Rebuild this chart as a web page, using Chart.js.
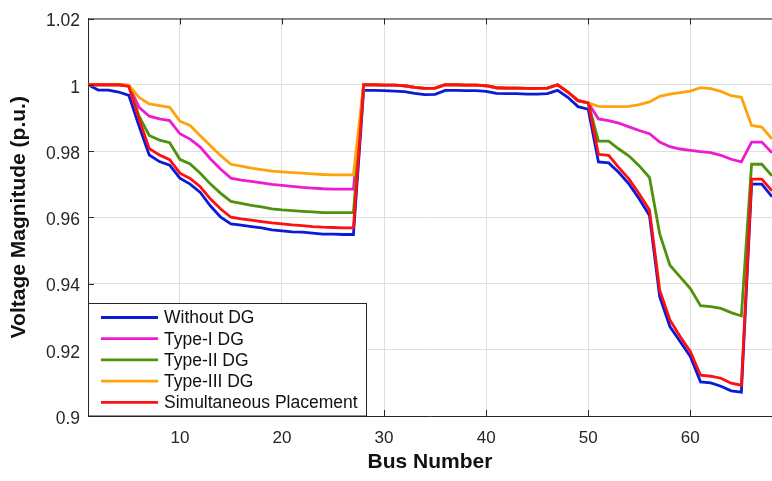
<!DOCTYPE html>
<html>
<head>
<meta charset="utf-8">
<script src="https://cdn.jsdelivr.net/npm/chart.js@4.4.1/dist/chart.umd.min.js"></script>
<style>
html,body{margin:0;padding:0;background:#fff;}
#wrap{width:772px;height:481px;position:relative;}
</style>
</head>
<body>
<div id="wrap"><canvas id="c" width="772" height="481"></canvas></div>
<script>
const busNumbers = [1,2,3,4,5,6,7,8,9,10,11,12,13,14,15,16,17,18,19,20,21,22,23,24,25,26,27,28,29,30,31,32,33,34,35,36,37,38,39,40,41,42,43,44,45,46,47,48,49,50,51,52,53,54,55,56,57,58,59,60,61,62,63,64,65,66,67,68,69];

const seriesNames = ["Without DG","Type-I DG","Type-II DG","Type-III DG","Simultaneous Placement"];

const withoutDG = [
 1.0000,0.9984,0.9984,0.9978,0.9968,0.9875,0.9788,0.9768,0.9757,0.9718,
 0.9700,0.9675,0.9634,0.9600,0.9580,0.9576,0.9572,0.9568,0.9562,0.9559,
 0.9556,0.9555,0.9552,0.9549,0.9549,0.9548,0.9548,0.9983,0.9983,0.9982,
 0.9981,0.9979,0.9974,0.9970,0.9971,0.9983,0.9983,0.9982,0.9982,0.9980,
 0.9974,0.9973,0.9973,0.9972,0.9972,0.9973,0.9983,0.9962,0.9934,0.9926,
 0.9767,0.9764,0.9735,0.9700,0.9655,0.9605,0.9360,0.9270,0.9225,0.9180,
 0.9103,0.9100,0.9090,0.9076,0.9072,0.9700,0.9700,0.9662,0.9662];

const typeIDG = [
 1.0000,1.0000,1.0000,1.0000,0.9998,0.9932,0.9905,0.9897,0.9892,0.9852,
 0.9836,0.9812,0.9776,0.9745,0.9718,0.9712,0.9708,0.9704,0.9699,0.9696,
 0.9693,0.9690,0.9688,0.9686,0.9685,0.9685,0.9685,1.0000,1.0000,0.9999,
 0.9999,0.9997,0.9992,0.9989,0.9990,1.0000,1.0000,0.9999,0.9999,0.9997,
 0.9991,0.9990,0.9990,0.9989,0.9989,0.9990,1.0000,0.9978,0.9952,0.9945,
 0.9897,0.9892,0.9884,0.9873,0.9862,0.9852,0.9827,0.9813,0.9806,0.9802,
 0.9798,0.9795,0.9787,0.9775,0.9767,0.9827,0.9827,0.9795,0.9795];

const typeIIDG = [
 1.0000,1.0000,1.0000,1.0000,0.9997,0.9905,0.9847,0.9833,0.9825,0.9775,
 0.9761,0.9733,0.9700,0.9672,0.9648,0.9642,0.9636,0.9631,0.9625,0.9622,
 0.9620,0.9618,0.9616,0.9614,0.9614,0.9614,0.9614,1.0000,1.0000,0.9999,
 0.9999,0.9997,0.9992,0.9989,0.9990,1.0000,1.0000,0.9999,0.9999,0.9997,
 0.9991,0.9990,0.9990,0.9989,0.9989,0.9990,1.0000,0.9978,0.9952,0.9945,
 0.9830,0.9830,0.9806,0.9785,0.9755,0.9720,0.9550,0.9455,0.9420,0.9385,
 0.9333,0.9330,0.9325,0.9312,0.9302,0.9760,0.9760,0.9725,0.9725];

const typeIIIDG = [
 1.0000,1.0000,1.0000,1.0000,0.9999,0.9962,0.9942,0.9937,0.9932,0.9890,
 0.9877,0.9846,0.9816,0.9786,0.9760,0.9754,0.9748,0.9744,0.9739,0.9737,
 0.9735,0.9733,0.9731,0.9729,0.9728,0.9728,0.9728,1.0000,1.0000,0.9999,
 0.9999,0.9997,0.9992,0.9989,0.9990,1.0000,1.0000,0.9999,0.9999,0.9997,
 0.9991,0.9990,0.9990,0.9989,0.9989,0.9990,1.0000,0.9978,0.9952,0.9945,
 0.9935,0.9934,0.9934,0.9935,0.9940,0.9948,0.9965,0.9972,0.9976,0.9981,
 0.9991,0.9988,0.9980,0.9967,0.9962,0.9877,0.9872,0.9837,0.9837];

const simultaneous = [
 1.0000,1.0000,1.0000,1.0000,0.9995,0.9897,0.9807,0.9788,0.9774,0.9733,
 0.9717,0.9692,0.9655,0.9625,0.9600,0.9595,0.9591,0.9587,0.9583,0.9580,
 0.9577,0.9575,0.9572,0.9570,0.9569,0.9568,0.9568,1.0000,1.0000,0.9999,
 0.9999,0.9997,0.9992,0.9989,0.9990,1.0000,1.0000,0.9999,0.9999,0.9997,
 0.9991,0.9990,0.9990,0.9989,0.9989,0.9990,1.0000,0.9978,0.9952,0.9945,
 0.9790,0.9787,0.9750,0.9715,0.9670,0.9622,0.9380,0.9290,0.9240,0.9195,
 0.9123,0.9120,0.9114,0.9099,0.9093,0.9715,0.9715,0.9680,0.9680];

const xTicks = [10,20,30,40,50,60];
const yTicks = [0.9,0.92,0.94,0.96,0.98,1,1.02];
const yTickLabels = ["0.9","0.92","0.94","0.96","0.98","1","1.02"];

const colors = ["#0a1ad8","#ee1ccf","#4f920c","#ffa30a","#ff0f0f"];
const allSeries = [withoutDG, typeIDG, typeIIDG, typeIIIDG, simultaneous];
const drawOrder = [5,4,3,2,1];

const FONT = "'Liberation Sans', Arial, Helvetica, sans-serif";

const datasets = allSeries.map((s, k) => ({
  label: seriesNames[k],
  data: busNumbers.map((b, i) => ({x: b, y: s[i]})),
  borderColor: colors[k],
  backgroundColor: colors[k],
  borderWidth: 2.8,
  pointRadius: 0,
  tension: 0,
  fill: false,
  order: drawOrder[k]
}));

const framePlugin = {
  id: 'frame',
  afterDraw(chart) {
    const {ctx, chartArea: {left, right, top, bottom}, scales: {x, y}} = chart;
    ctx.save();
    ctx.strokeStyle = '#262626';
    ctx.lineWidth = 1;
    ctx.beginPath();
    ctx.moveTo(left, top + 0.5); ctx.lineTo(right, top + 0.5);
    yTicks.forEach(v => {
      const py = Math.round(y.getPixelForValue(v)) + 0.5;
      ctx.moveTo(left, py); ctx.lineTo(left + 6, py);
    });
    xTicks.forEach(v => {
      const px = Math.round(x.getPixelForValue(v)) + 0.5;
      ctx.moveTo(px, bottom); ctx.lineTo(px, bottom - 6);
      ctx.moveTo(px, top); ctx.lineTo(px, top + 6);
    });
    ctx.stroke();

    // legend box (bottom-left inside the plot)
    const bx = left + 0.5, by = 303.5, bw = 278, bh = bottom - 303.5;
    ctx.fillStyle = '#ffffff';
    ctx.fillRect(bx, by, bw, bh);
    ctx.strokeStyle = '#262626';
    ctx.strokeRect(bx, by, bw, bh);
    ctx.font = "17.5px " + FONT;
    ctx.textBaseline = 'middle';
    ctx.textAlign = 'left';
    chart.data.datasets.forEach((ds, k) => {
      const ry = 317.5 + k * 21.2;
      ctx.strokeStyle = ds.borderColor;
      ctx.lineWidth = 2.8;
      ctx.beginPath();
      ctx.moveTo(101, ry); ctx.lineTo(158, ry);
      ctx.stroke();
      ctx.fillStyle = '#111111';
      ctx.fillText(ds.label, 164, ry + 1);
    });
    ctx.restore();
  }
};

new Chart(document.getElementById('c'), {
  type: 'line',
  data: { datasets },
  options: {
    responsive: false,
    animation: false,
    layout: { padding: { top: 16, right: 0, bottom: 0, left: 0 } },
    plugins: { legend: { display: false }, tooltip: { enabled: false } },
    scales: {
      x: {
        type: 'linear',
        min: 1,
        max: 68,
        afterBuildTicks: (s) => { s.ticks = xTicks.map(v => ({value: v})); },
        afterFit: (s) => { s.height = 65; },
        grid: { color: '#dedede', lineWidth: 1, drawTicks: false },
        border: { color: '#262626', width: 1 },
        ticks: {
          padding: 12,
          color: '#262626',
          font: { family: FONT, size: 17 },
          maxRotation: 0,
          callback: (v) => String(v)
        },
        title: {
          display: true,
          text: 'Bus Number',
          color: '#111111',
          font: { family: FONT, size: 21, weight: 'bold' },
          padding: { top: 0, bottom: 6 }
        }
      },
      y: {
        type: 'linear',
        min: 0.9,
        max: 1.02,
        afterBuildTicks: (s) => { s.ticks = yTicks.map(v => ({value: v})); },
        afterFit: (s) => { s.width = 88; },
        grid: { color: '#dedede', lineWidth: 1, drawTicks: false },
        border: { color: '#262626', width: 1 },
        ticks: {
          padding: 8,
          labelOffset: 3,
          color: '#262626',
          font: { family: FONT, size: 17.5 },
          callback: (v) => { const i = yTicks.findIndex(t => Math.abs(t - v) < 1e-9); return i >= 0 ? yTickLabels[i] : ''; }
        },
        title: {
          display: true,
          text: 'Voltage Magnitude (p.u.)',
          color: '#111111',
          font: { family: FONT, size: 21, weight: 'bold' },
          padding: { top: 7, bottom: 0 }
        }
      }
    }
  },
  plugins: [framePlugin]
});
</script>
</body>
</html>
